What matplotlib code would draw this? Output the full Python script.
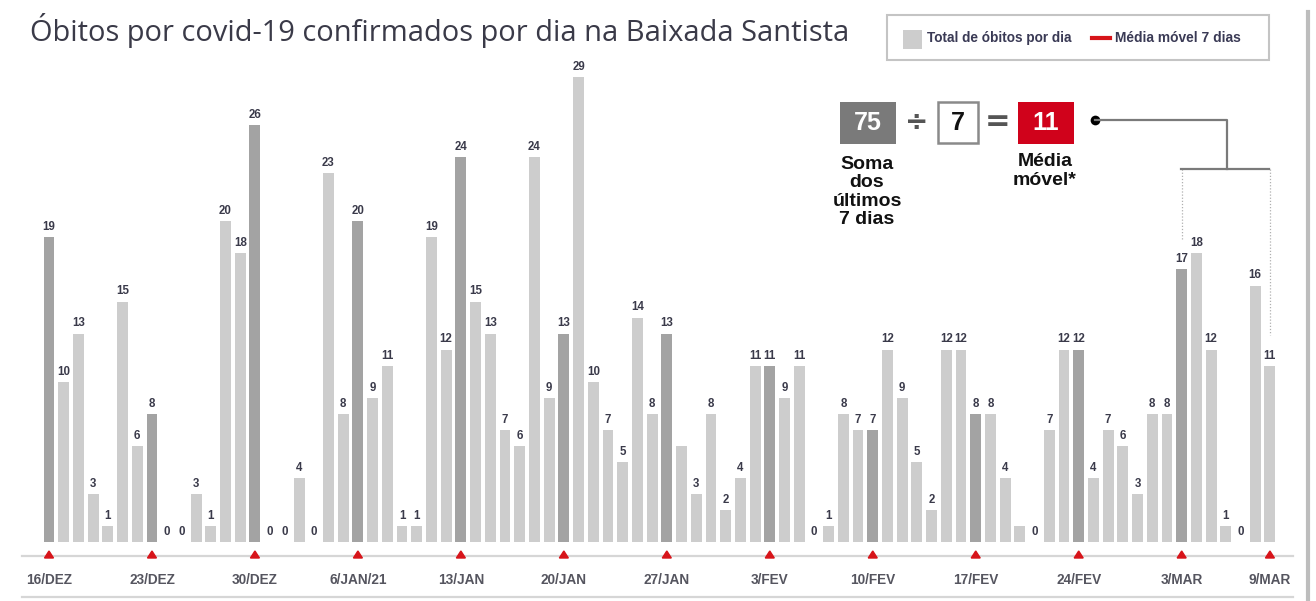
import matplotlib
matplotlib.use("Agg")
import matplotlib.pyplot as plt
from matplotlib import font_manager
from matplotlib.patches import Rectangle, Polygon
from matplotlib.lines import Line2D

# ---------------- data ----------------
dates = (
    [f"{d}/DEZ" for d in range(16, 32)]
    + [f"{d}/JAN" for d in range(1, 32)]
    + [f"{d}/FEV" for d in range(1, 29)]
    + [f"{d}/MAR" for d in range(1, 10)]
)
deaths = [
    19, 10, 13, 3, 1, 15, 6, 8, 0, 0, 3, 1, 20, 18, 26, 0,          # dez
    0, 4, 0, 23, 8, 20, 9, 11, 1, 1, 19, 12, 24, 15, 13, 7, 6, 24,  # jan
    9, 13, 29, 10, 7, 5, 14, 8, 13, 6, 3, 8, 2,
    4, 11, 11, 9, 11, 0, 1, 8, 7, 7, 12, 9, 5, 2, 12, 12, 8, 8,     # fev
    4, 1, 0, 7, 12, 12, 4, 7, 6, 3,
    8, 8, 17, 18, 12, 1, 0, 16, 11,                                  # mar
]
hidden_labels = ["28/JAN", "20/FEV"]   # values without printed label in the original
tick_dates = ["16/DEZ", "23/DEZ", "30/DEZ", "6/JAN", "13/JAN", "20/JAN", "27/JAN",
              "3/FEV", "10/FEV", "17/FEV", "24/FEV", "3/MAR", "9/MAR"]
tick_texts = ["16/DEZ", "23/DEZ", "30/DEZ", "6/JAN/21", "13/JAN", "20/JAN", "27/JAN",
              "3/FEV", "10/FEV", "17/FEV", "24/FEV", "3/MAR", "9/MAR"]
highlight_dates = tick_dates[:-1]       # darker bars (weekly marks)
sum_last7 = 75
divisor = 7
moving_avg = 11
title = "Óbitos por covid-19 confirmados por dia na Baixada Santista"
legend_bar = "Total de óbitos por dia"
legend_line = "Média móvel 7 dias"

# ---------------- fonts ----------------
names = {f.name for f in font_manager.fontManager.ttflist}
narrow = "Liberation Sans Narrow" if "Liberation Sans Narrow" in names else "Liberation Sans"
title_font = "Open Sans" if "Open Sans" in names else "DejaVu Sans"

W, H = 1316, 601
fig = plt.figure(figsize=(W / 100, H / 100), dpi=100)
fig.patch.set_facecolor("white")

# data axes covering the whole figure, scaled to match pixel layout
x0_px, step_px = 49.0, 14.71
base_px, unit_px = 542.0, 16.03
ax = fig.add_axes([0, 0, 1, 1])
ax.set_xlim(-x0_px / step_px, (W - x0_px) / step_px)
ax.set_ylim((base_px - H) / unit_px, base_px / unit_px)
ax.axis("off")


def fx(px):
    return px / W


def fy(py):
    return 1 - py / H


def dx(px):
    return (px - x0_px) / step_px


def dy(py):
    return (base_px - py) / unit_px


idx = list(range(len(deaths)))
light, dark = "#cdcdcd", "#a3a3a3"
colors = [dark if d in highlight_dates else light for d in dates]
ax.bar(idx, deaths, width=0.74, color=colors, zorder=2)

for i, (d, v) in enumerate(zip(dates, deaths)):
    if d in hidden_labels:
        continue
    ax.annotate(str(v), (i, v), xytext=(0, 3), textcoords="offset points",
                ha="center", va="bottom", fontsize=8.3, fontweight="bold",
                family=narrow, color="#3a3a4a", zorder=3)

# baseline, triangles and tick labels
ax.plot([dx(22), dx(1293)], [dy(556), dy(556)], color="#d6d6d6", lw=1.6, zorder=1)
ax.plot([dx(22), dx(1293)], [dy(597), dy(597)], color="#d6d6d6", lw=1.6, zorder=1)
tri_h = 7 / unit_px
tri_w = 4.5 / step_px
for d, t in zip(tick_dates, tick_texts):
    i = dates.index(d)
    ax.add_patch(Polygon([[i - tri_w, dy(558)], [i + tri_w, dy(558)], [i, dy(558) + tri_h]],
                         closed=True, color="#d7141a", zorder=3))
    ax.text(i, dy(580), t, ha="center", va="center", fontsize=9.8, fontweight="bold",
            family=narrow, color="#55555f")

# right border line
fig.add_artist(Line2D([fx(1308), fx(1308)], [fy(12), fy(601)], color="#bdbdbd", lw=3))

# title
fig.text(fx(30), fy(30), title, ha="left", va="center", fontsize=20.9,
         family=title_font, color="#3a3a48")

# legend box
fig.add_artist(Rectangle((fx(887), fy(60)), fx(1269) - fx(887), fy(15) - fy(60),
                         fill=False, edgecolor="#c4c4c4", lw=1.5))
fig.add_artist(Rectangle((fx(903), fy(49)), fx(922) - fx(903), fy(30) - fy(49),
                         facecolor="#cdcdcd", edgecolor="none"))
fig.text(fx(927), fy(38), legend_bar, ha="left", va="center", fontsize=9.8,
         fontweight="bold", family=narrow, color="#3a3a55")
fig.add_artist(Line2D([fx(1092), fx(1110)], [fy(38), fy(38)], color="#d7141a", lw=3))
fig.text(fx(1115), fy(38), legend_line, ha="left", va="center", fontsize=9.9,
         fontweight="bold", family=narrow, color="#3a3a55")

# moving-average explanation
fig.add_artist(Rectangle((fx(840), fy(144)), fx(896) - fx(840), fy(102) - fy(144),
                         facecolor="#7a7a7a", edgecolor="none"))
fig.text(fx(868), fy(123), str(sum_last7), ha="center", va="center", fontsize=18,
         fontweight="bold", family=narrow, color="white")
fig.text(fx(917), fy(122), "÷", ha="center", va="center", fontsize=20,
         fontweight="bold", family="DejaVu Sans", color="#555555")
fig.add_artist(Rectangle((fx(938), fy(143)), fx(978) - fx(938), fy(102) - fy(143),
                         facecolor="white", edgecolor="#8a8a8a", lw=1.8))
fig.text(fx(958), fy(123), str(divisor), ha="center", va="center", fontsize=18,
         fontweight="bold", family=narrow, color="#111111")
fig.text(fx(998), fy(122), "=", ha="center", va="center", fontsize=22,
         fontweight="bold", family="DejaVu Sans", color="#555555")
fig.add_artist(Rectangle((fx(1018), fy(144)), fx(1074) - fx(1018), fy(102) - fy(144),
                         facecolor="#d0021b", edgecolor="none"))
fig.text(fx(1046), fy(123), str(moving_avg), ha="center", va="center", fontsize=18,
         fontweight="bold", family=narrow, color="white")
fig.text(fx(867), fy(192), "Soma\ndos\núltimos\n7 dias", ha="center", va="center",
         fontsize=14, fontweight="bold", family=narrow, color="#111111", linespacing=1.12)
fig.text(fx(1045), fy(171), "Média\nmóvel*", ha="center", va="center",
         fontsize=14, fontweight="bold", family=narrow, color="#111111", linespacing=1.12)

# connector bracket
fig.add_artist(Line2D([fx(1095)], [fy(120)], marker="o", markersize=7,
                      color="black", markeredgewidth=0))
fig.add_artist(Line2D([fx(1095), fx(1227), fx(1227)], [fy(120), fy(120), fy(169)],
                      color="#7a7a7a", lw=1.6))
fig.add_artist(Line2D([fx(1181), fx(1269)], [fy(169), fy(169)], color="#7a7a7a", lw=1.6))
i_start = dates.index("3/MAR")
i_end = dates.index("9/MAR")
ax.plot([i_start, i_start], [dy(169), deaths[i_start] + 1.9], color="#b0b0b0",
        lw=0.9, ls=(0, (1, 1.5)), zorder=1)
ax.plot([i_end, i_end], [dy(169), deaths[i_end] + 1.9], color="#b0b0b0",
        lw=0.9, ls=(0, (1, 1.5)), zorder=1)

fig.savefig("out.png", dpi=100, facecolor="white")
